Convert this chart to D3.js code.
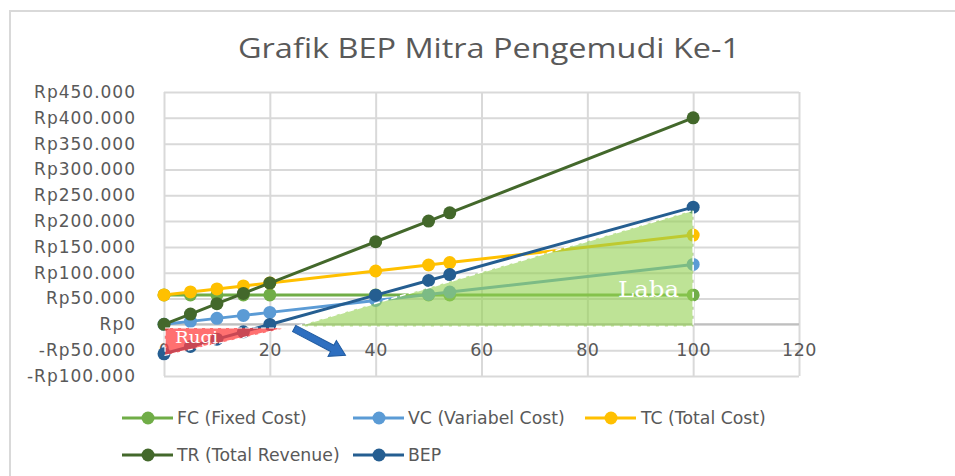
<!DOCTYPE html>
<html>
<head>
<meta charset="utf-8">
<script src="https://cdn.jsdelivr.net/npm/d3@7"></script>
<style>
  html, body { margin: 0; padding: 0; background: #ffffff; }
  svg { display: block; }
</style>
</head>
<body>
<svg id="chart" width="955" height="476"></svg>
<script>
// ---------- data ----------
const units   = [0, 5, 10, 15, 20, 40, 50, 54, 100];
const fcVals  = [57000, 57000, 57000, 57000, 57000, 57000, 57000, 57000, 57000];
const vcVals  = [0, 5800, 11600, 17400, 23200, 46400, 58000, 62600, 116000];
const tcVals  = [57000, 62800, 68600, 74400, 80200, 103400, 115000, 119600, 173000];
const trVals  = [0, 20000, 40000, 60000, 80000, 160000, 200000, 216000, 400000];
const bepVals = [-57000, -42800, -28600, -14400, -200, 56600, 85000, 96400, 227000];

const seriesNames  = ["FC (Fixed Cost)", "VC (Variabel Cost)", "TC (Total Cost)", "TR (Total Revenue)", "BEP"];
const seriesColors = ["#70ad47", "#5b9bd5", "#ffc000", "#43682b", "#255e91"];

const xTicks = [0, 20, 40, 60, 80, 100, 120];
const yTicks = [-100000, -50000, 0, 50000, 100000, 150000, 200000, 250000, 300000, 350000, 400000, 450000];

// annotation shapes (data units)
const labaShape = [[25, -4000], [100, 221000], [100, -4000]];
const rugiShape = [[0.2, -7000], [23, -7000], [0.2, -60000]];
const arrowFrom = [24.6, -8000];
const arrowTo   = [34.3, -60000];

const title = "Grafik BEP Mitra Pengemudi Ke-1";

// ---------- layout ----------
const svg = d3.select("#chart");
const x = d3.scaleLinear().domain([0, 120]).range([164, 799]);
const y = d3.scaleLinear().domain([-100000, 450000]).range([376, 92]);

// chart frame
svg.append("rect").attr("x", 10).attr("y", 11).attr("width", 1000).attr("height", 1000)
  .attr("fill", "none").attr("stroke", "#d9d9d9").attr("stroke-width", 2);

// title
svg.append("text").attr("x", 489).attr("y", 58).attr("text-anchor", "middle")
  .attr("font-family", "'Open Sans', sans-serif").attr("font-size", 28)
  .attr("fill", "#595959").attr("textLength", 502).attr("lengthAdjust", "spacingAndGlyphs")
  .text(title);

const fmtY = v => (v < 0 ? "-" : "") + "Rp" + d3.format(",")(Math.abs(v)).replace(/,/g, ".");

// y gridlines + labels
const yAxis = svg.append("g").attr("transform", `translate(${x(0)},0)`)
  .call(d3.axisLeft(y).tickValues(yTicks).tickSize(-(x(120) - x(0))).tickPadding(28).tickFormat(fmtY));
yAxis.select(".domain").remove();
yAxis.selectAll("line").attr("stroke", "#d9d9d9").attr("stroke-width", 2);
yAxis.selectAll("text").attr("fill", "#595959").attr("font-family", "'DejaVu Sans', sans-serif")
  .attr("font-size", 17).attr("letter-spacing", 1);

// x gridlines
const xGrid = svg.append("g").attr("transform", `translate(0,${y(-100000)})`)
  .call(d3.axisBottom(x).tickValues(xTicks).tickSize(-(y(-100000) - y(450000))).tickFormat(""));
xGrid.select(".domain").remove();
xGrid.selectAll("line").attr("stroke", "#d9d9d9").attr("stroke-width", 2);

// x axis line at 0
svg.append("line").attr("x1", x(0)).attr("x2", x(120)).attr("y1", y(0)).attr("y2", y(0))
  .attr("stroke", "#bfbfbf").attr("stroke-width", 2);

// x labels
const xAxis = svg.append("g").attr("transform", `translate(0,${y(0)})`)
  .call(d3.axisBottom(x).tickValues(xTicks).tickSize(0).tickPadding(19.5));
xAxis.select(".domain").remove();
xAxis.selectAll("text").attr("fill", "#595959").attr("font-family", "'DejaVu Sans', sans-serif")
  .attr("font-size", 17.5).attr("letter-spacing", 0.5);

// series
const allVals = [fcVals, vcVals, tcVals, trVals, bepVals];
const line = d3.line().x(d => x(d[0])).y(d => y(d[1]));
allVals.forEach((vals, i) => {
  const pts = units.map((u, j) => [u, vals[j]]);
  const g = svg.append("g");
  g.append("path").attr("d", line(pts)).attr("fill", "none")
    .attr("stroke", seriesColors[i]).attr("stroke-width", 3).attr("stroke-linejoin", "round");
  g.selectAll("circle").data(pts).join("circle")
    .attr("cx", d => x(d[0])).attr("cy", d => y(d[1])).attr("r", 6.5)
    .attr("fill", seriesColors[i]);
});

// Laba area
const poly = pts => pts.map(p => [x(p[0]), y(p[1])].join(",")).join(" ");
svg.append("polygon").attr("points", poly(labaShape))
  .attr("fill", "#92d050").attr("fill-opacity", 0.6)
  .attr("stroke", "#ffffff").attr("stroke-width", 1.5).attr("stroke-dasharray", "6,3");

// Rugi area
svg.append("polygon").attr("points", poly(rugiShape))
  .attr("fill", "#ff4040").attr("fill-opacity", 0.75)
  .attr("stroke", "#ffffff").attr("stroke-width", 1.2).attr("stroke-dasharray", "5,3");

// labels
svg.append("text").attr("x", x(0) + 11).attr("y", 343)
  .attr("font-family", "'DejaVu Serif', serif").attr("font-size", 17)
  .attr("fill", "#ffffff").attr("textLength", 43).attr("lengthAdjust", "spacingAndGlyphs")
  .text("Rugi");
svg.append("text").attr("x", 618).attr("y", 297)
  .attr("font-family", "'DejaVu Serif', serif").attr("font-size", 22)
  .attr("fill", "#ffffff").attr("textLength", 61).attr("lengthAdjust", "spacingAndGlyphs")
  .text("Laba");

// arrow
const ax1 = x(arrowFrom[0]), ay1 = y(arrowFrom[1]), ax2 = x(arrowTo[0]), ay2 = y(arrowTo[1]);
const ang = Math.atan2(ay2 - ay1, ax2 - ax1);
const len = Math.hypot(ax2 - ax1, ay2 - ay1);
const headL = 15, headW = 9, bodyW = 3.5;
const arrowPts = [
  [0, -bodyW], [len - headL, -bodyW], [len - headL, -headW], [len, 0],
  [len - headL, headW], [len - headL, bodyW], [0, bodyW]
];
svg.append("polygon")
  .attr("points", arrowPts.map(p => p.join(",")).join(" "))
  .attr("transform", `translate(${ax1},${ay1}) rotate(${ang * 180 / Math.PI})`)
  .attr("fill", "#2e6fc0").attr("stroke", "#1f5aa0").attr("stroke-width", 1);

// legend
const legendItems = [
  { i: 0, lx: 122, ly: 418, tx: 177 },
  { i: 1, lx: 353, ly: 418, tx: 408 },
  { i: 2, lx: 585, ly: 418, tx: 641 },
  { i: 3, lx: 122, ly: 455, tx: 177 },
  { i: 4, lx: 353, ly: 455, tx: 408 }
];
const lg = svg.append("g");
legendItems.forEach(it => {
  lg.append("line").attr("x1", it.lx).attr("x2", it.lx + 51).attr("y1", it.ly).attr("y2", it.ly)
    .attr("stroke", seriesColors[it.i]).attr("stroke-width", 3);
  lg.append("circle").attr("cx", it.lx + 26).attr("cy", it.ly).attr("r", 6.5).attr("fill", seriesColors[it.i]);
  lg.append("text").attr("x", it.tx).attr("y", it.ly + 6.3)
    .attr("font-family", "'DejaVu Sans', sans-serif").attr("font-size", 17.3)
    .attr("fill", "#595959").text(seriesNames[it.i]);
});
</script>
</body>
</html>
